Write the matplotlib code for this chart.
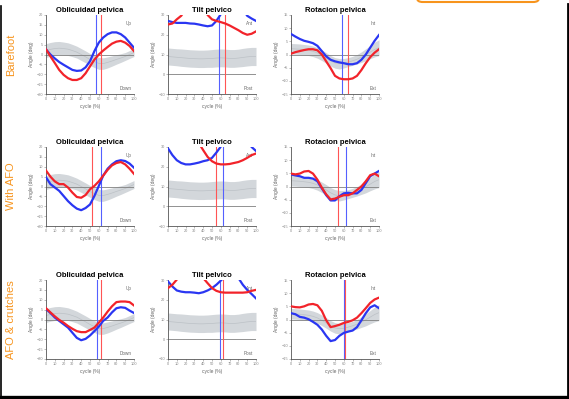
import numpy as np
import matplotlib.pyplot as plt
from matplotlib.patches import FancyBboxPatch
from matplotlib.lines import Line2D

# gait cycle (%) sampled every 5 %
cycle = [0, 5, 10, 15, 20, 25, 30, 35, 40, 45, 50,
         55, 60, 65, 70, 75, 80, 85, 90, 95, 100]

conditions = ["Barefoot", "With AFO", "AFO & crutches"]
titles = ["Oblicuidad pelvica", "Tilt pelvico", "Rotacion pelvica"]
top_words = ["Up", "Ant", "Int"]
bottom_words = ["Down", "Post", "Ext"]

# normative band (mean, sd) per kinematic variable
norm_obl_mean = [2, 2.6, 3, 3.2, 3, 2.7, 2, 1.2, 0, -1.2, -2.5,
                 -3.6, -4.5, -4.6, -4, -3.3, -2.5, -1.8, -1, 0, 1]
norm_obl_sd = [3.5, 3.5, 3.5, 3.4, 3.3, 3.2, 3.1, 3, 3, 3, 3,
               3, 3, 2.9, 2.8, 2.6, 2.4, 2.2, 2, 2, 2]
norm_tilt_mean = [9, 8.8, 8.6, 8.4, 8.2, 8, 7.9, 7.8, 7.8, 7.9, 8,
                  8.2, 8.3, 8.2, 8, 8, 8.2, 8.5, 8.8, 9, 9]
norm_tilt_sd = [4.3, 4.3, 4.3, 4.4, 4.4, 4.4, 4.4, 4.4, 4.4, 4.4, 4.5,
                4.5, 4.5, 4.5, 4.5, 4.5, 4.5, 4.6, 4.6, 4.6, 4.6]
norm_rot_mean = [2.2, 2.1, 2, 1.8, 1.6, 1.2, 0.6, -0.3, -1.3, -2.4, -3.2,
                 -3.5, -3.3, -2.9, -2.4, -1.8, -1, -0.1, 0.9, 1.9, 2.6]
norm_rot_sd = [2, 2, 2, 2, 2, 2, 2, 2, 2, 2, 2,
               2, 1.8, 1.7, 1.7, 1.8, 2, 2.3, 2.5, 2.8, 3]

# left (blue) and right (red) side, one row per condition
obl_blue = [
    [2.6, 0, -2, -3.8, -5.2, -6.5, -7.8, -8.3, -8.1, -6.5, -3.4,
     1.7, 6, 8.6, 10.3, 11.2, 11.2, 10.3, 8.6, 6, 3.4],
    [4.7, 1.2, -0.5, -2.2, -4.8, -7.4, -9.5, -11.2, -12, -10.9, -9.1,
     -4.8, 0.3, 5.5, 9, 11.2, 12.8, 13.3, 12.9, 11.6, 9.5],
    [5.3, 3.3, 1, -0.7, -2.4, -4.1, -6.7, -9.3, -10.5, -9.8, -8.1,
     -5.9, -3.6, -0.7, 1, 3.6, 5.7, 6.2, 5.9, 4.5, 3.3],
]
obl_red = [
    [2.6, -0.9, -4.3, -7.8, -10.3, -12, -12.9, -12.9, -12, -9.5, -6,
     -2.6, 0, 2, 3.8, 5.5, 6.5, 6.9, 6, 4.3, 1.7],
    [8.1, 5, 2.6, 1.2, 1.2, -0.5, -3.1, -5.3, -5.7, -4.3, -1.4,
     0.3, 2.6, 5.5, 8.4, 10.7, 11.9, 12.4, 11.2, 9, 6.4],
    [5.7, 3.6, 1.6, -0.2, -1.6, -3.3, -4.7, -5.9, -6.4, -6.4, -5.3,
     -4.1, -1.6, 1, 4, 6.7, 8.8, 9.1, 9.1, 8.8, 7.1],
]
tilt_blue = [
    [27, 26.4, 26, 26, 26, 25.7, 25.6, 25.2, 24.7, 24.3, 24.7,
     27, 30.4, 33, 34, 35, 35, 33, 29.6, 28.2, 27],
    [29.3, 25.9, 23.3, 21.9, 21.2, 21.2, 21.6, 22.1, 22.8, 23.3, 24.5,
     27.2, 30.2, 33, 35, 36, 36, 35, 33, 30, 28],
    [29.3, 26.7, 24.7, 24.1, 23.8, 23.8, 23.6, 23.3, 23.8, 24.7, 25.9,
     27.6, 29.7, 32, 33, 32.5, 31, 27.6, 25, 22.9, 20.7],
]
tilt_red = [
    [25.2, 25.7, 27.8, 29.6, 33, 36, 37, 37, 35, 30, 27.8,
     27, 26.4, 25.7, 24.7, 23.5, 22.3, 20.9, 20, 20.5, 21.7],
    [36, 37, 38, 38, 37, 36, 35, 32, 28.4, 25, 22.8,
     21.6, 21.2, 21.2, 21.4, 21.9, 22.4, 23.3, 24.5, 25.9, 26.7],
    [25.9, 27.6, 30.2, 33, 35, 36, 35, 33, 31, 28.4, 25.9,
     24.5, 23.8, 23.6, 23.6, 23.6, 23.6, 23.6, 23.8, 24.5, 25],
]
rot_blue = [
    [7.8, 6.8, 5.9, 5.2, 4.8, 4.3, 3.3, 1.3, -0.7, -2, -2.6,
     -3, -3.3, -3.7, -3.7, -3.3, -2, 0, 2.6, 5.2, 7.4],
    [4.6, 4.2, 3.9, 3.3, 3.3, 3, 2, -0.7, -3.3, -5.3, -5.3,
     -3.7, -2.6, -2.4, -2.6, -2.6, -1.3, 1.3, 3.9, 4.9, 5.9],
    [2.4, 2, 1, 0.7, 0.1, -0.9, -2, -3.8, -6.2, -8.2, -7.8,
     -6.2, -5.1, -4.6, -4.2, -2.9, -0.3, 2.4, 4.6, 5.4, 4.3],
]
rot_red = [
    [0.3, 0.9, 1.3, 1.7, 2, 2, 1.6, 0, -2.6, -5.2, -8.1,
     -9.1, -9.4, -9.4, -9.1, -8.1, -5.9, -3.3, -1, 0.7, 2],
    [4.9, 4.6, 4.9, 5.7, 5.9, 4.9, 2.6, -0.4, -3, -4.9, -4.6,
     -3.9, -3.3, -3.3, -2.6, -1.3, 0, 2, 4.3, 4.9, 3.9],
    [5, 4.7, 4.6, 5, 5.7, 5.9, 5.4, 3.3, -0.3, -2.9, -2.5,
     -2, -1.3, -0.9, -0.3, 0.7, 2.4, 4.3, 6.3, 7.6, 8.3],
]

# toe-off (% of cycle) for [obliquity, tilt, rotation] panels
toe_off_blue = [[57, 58, 58], [63, 63, 62], [58, 59, 60]]
toe_off_red = [[62, 65, 65], [52, 54, 53], [63, 63, 61]]

blue_curves = [obl_blue, tilt_blue, rot_blue]
red_curves = [obl_red, tilt_red, rot_red]
norm_means = [norm_obl_mean, norm_tilt_mean, norm_rot_mean]
norm_sds = [norm_obl_sd, norm_tilt_sd, norm_rot_sd]
y_limits = [(-20, 20), (-10, 30), (-15, 15)]
y_steps = [5, 10, 5]

W, H = 569, 399
fig = plt.figure(figsize=(W / 100, H / 100), dpi=100)
plt.rcParams['font.family'] = ['Liberation Sans', 'DejaVu Sans']

col_left = [46, 168, 291]
row_top = [15, 147, 280]
ax_w, ax_h = 88, 79

blue = '#2a36f2'
red = '#f2232a'
orange = '#f7941d'

for r in range(3):
    for c in range(3):
        ax = fig.add_axes([col_left[c] / W, 1 - (row_top[r] + ax_h) / H,
                           ax_w / W, ax_h / H])
        mean = np.array(norm_means[c])
        sd = np.array(norm_sds[c])
        ax.fill_between(cycle, mean - sd, mean + sd, color='#d3d7db',
                        lw=0, zorder=1)
        ax.plot(cycle, mean, color='#bcc1c6', lw=0.5, zorder=1.5)
        ax.axhline(0, color='#808080', lw=0.6, zorder=2)

        ax.axvline(toe_off_blue[r][c], color='#5560ff', lw=0.8, zorder=3)
        ax.axvline(toe_off_red[r][c], color='#ff5555', lw=0.8, zorder=3)
        ax.plot(cycle, blue_curves[c][r], color=blue, lw=1.6,
                solid_joinstyle='round', zorder=4)
        ax.plot(cycle, red_curves[c][r], color=red, lw=1.6,
                solid_joinstyle='round', zorder=4)

        lo, hi = y_limits[c]
        ax.set_xlim(0, 100)
        ax.set_ylim(lo, hi)
        ax.set_xticks(range(0, 101, 10))
        ax.set_yticks(range(lo, hi + 1, y_steps[c]))
        ax.tick_params(labelsize=2.8, colors='#888888', length=1.2,
                       width=0.4, pad=1)
        for side in ['top', 'right']:
            ax.spines[side].set_visible(False)
        for side in ['left', 'bottom']:
            ax.spines[side].set_color('#555555')
            ax.spines[side].set_linewidth(0.6)

        ax.set_title(titles[c], fontsize=5.5, fontweight='bold', pad=2)
        ax.set_xlabel('cycle (%)', fontsize=3.5, color='#666666', labelpad=2)
        ax.set_ylabel('Angle (deg)', fontsize=3.5, color='#666666', labelpad=2)
        ax.text(0.97, 0.93, top_words[c], transform=ax.transAxes,
                ha='right', va='top', fontsize=3.3, color='#666666')
        ax.text(0.97, 0.04, bottom_words[c], transform=ax.transAxes,
                ha='right', va='bottom', fontsize=3.3, color='#666666')

    # condition label on the left of each row
    yc = 1 - (row_top[r] + ax_h / 2) / H
    fig.text(11 / W, yc, conditions[r], rotation=90, ha='center',
             va='center', fontsize=8, color=orange)

# outer frame (left, right, bottom)
fig.add_artist(Line2D([1 / W, 1 / W], [0, 1 - 6 / H], color='black',
                      lw=1.2, transform=fig.transFigure))
fig.add_artist(Line2D([567.5 / W, 567.5 / W], [0, 1 - 4 / H], color='black',
                      lw=2.0, transform=fig.transFigure))
fig.add_artist(Line2D([0, 1], [2 / H, 2 / H], color='black',
                      lw=2.4, transform=fig.transFigure))

# orange button peeking in at the top
fig.add_artist(FancyBboxPatch((417 / W, 1 - 2 / H), 122 / W, 20 / H,
                              boxstyle='round,pad=0,rounding_size=0.01',
                              transform=fig.transFigure, facecolor='white',
                              edgecolor=orange, lw=1.5, clip_on=False))

fig.savefig('out.png', dpi=100)
